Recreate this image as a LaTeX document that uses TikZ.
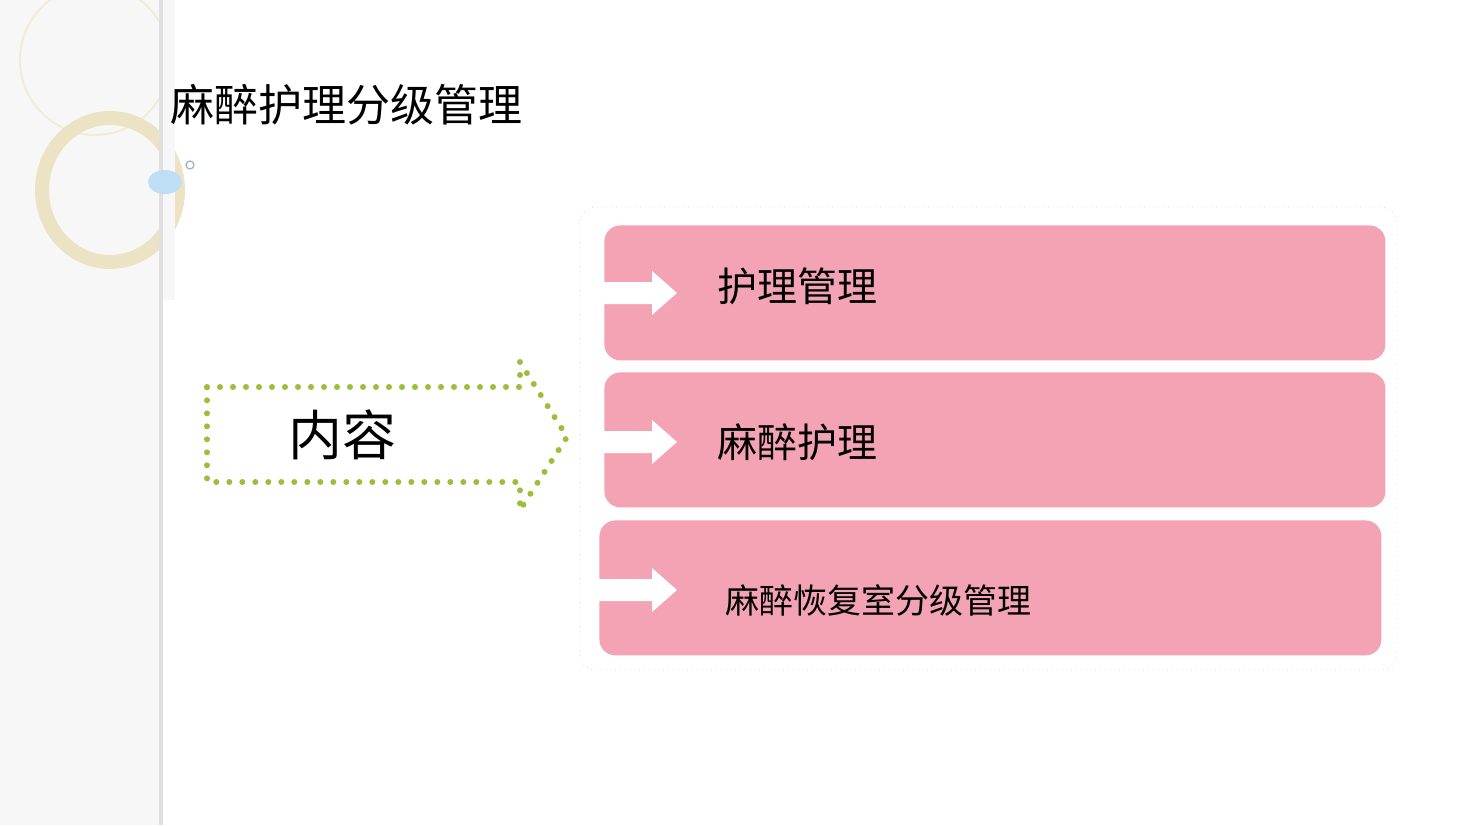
\documentclass[tikz,border=0pt]{standalone}
\usepackage{fontspec}
\newfontfamily\cjk{Noto Sans CJK SC}
\usetikzlibrary{positioning}
\definecolor{pinkbox}{RGB}{244,163,180}
\definecolor{dotgreen}{RGB}{155,190,60}
\definecolor{ringbeige}{RGB}{236,226,196}
\definecolor{bubble}{RGB}{190,222,245}
\tikzset{
  box/.style={fill=pinkbox, rounded corners=8pt},
  label/.style={anchor=west, inner sep=0pt, font=\cjk},
  warrow/.style={fill=white},
}
\begin{document}
\begin{tikzpicture}[x=0.5pt,y=-0.5pt]
\useasboundingbox (0,0) rectangle (1467,825);
\fill[white] (0,0) rectangle (1467,825);
% left strip with rings
\fill[black!3] (0,0) rectangle (160,825);
\draw[ringbeige!70, line width=1pt] (95,60) circle (75);
\draw[ringbeige, line width=7pt] (110,190) ellipse (68 and 72);
\fill[black!3] (163,0) rectangle (175,300);
\draw[black!12, line width=2pt] (161,0) -- (161,825);
\fill[bubble] (165,182) ellipse (17 and 12);
\draw[bubble!80!black, line width=0.6pt] (190,165) circle (4);
% title
\node (title) [label, font=\cjk\fontsize{22}{22}\selectfont] at (170,105) {麻醉护理分级管理};
% dotted frame
\draw[black!15, dotted, rounded corners=8pt] (580,207) rectangle (1397,670);
% boxes
\node (b1) [box, minimum width=390.5pt, minimum height=67.5pt, anchor=north west] at (604,225) {};
\node (b2) [box, minimum width=390.5pt, minimum height=67.5pt, anchor=north west] at (604,372) {};
\node (b3) [box, minimum width=391pt, minimum height=67.5pt, anchor=north west] at (599,520) {};
\foreach \y/\x in {293/604, 442/604, 590/599}
  \fill[warrow] (\x,\y-11) -- (652,\y-11) -- (652,\y-22) -- (677,\y) -- (652,\y+22) -- (652,\y+11) -- (\x,\y+11) -- cycle;
\node (t1) [label, font=\cjk\fontsize{20}{20}\selectfont] at (717,286) {护理管理};
\node (t2) [label, font=\cjk\fontsize{20}{20}\selectfont] at (717,442) {麻醉护理};
\node (t3) [label, font=\cjk\fontsize{17}{17}\selectfont] at (725,600) {麻醉恢复室分级管理};
% green arrow
\draw[dotgreen, line width=3pt, line cap=round, dash pattern=on 0pt off 6.5pt]
  (207,387) -- (520,387) -- (520,362) -- (567,437) -- (520,510) -- (520,482) -- (207,482) -- cycle;
\node (content) [label, font=\cjk\fontsize{27}{27}\selectfont] at (288,435) {内容};
\end{tikzpicture}
\end{document}
